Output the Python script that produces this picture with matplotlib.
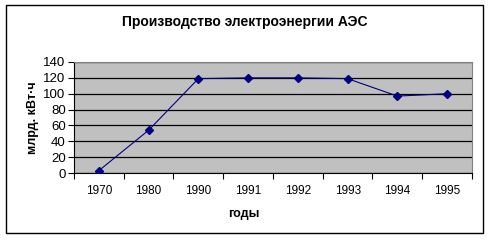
import numpy as np
import matplotlib
matplotlib.use('Agg')
import matplotlib.pyplot as plt
from matplotlib.patches import Rectangle

plt.rcParams['font.family'] = ['Liberation Sans', 'DejaVu Sans']

years = ['1970', '1980', '1990', '1991', '1992', '1993', '1994', '1995']
output = [3, 54, 119, 120, 120, 119, 97, 100]

fig = plt.figure(figsize=(4.89, 2.46), dpi=100)
# Excel-like outer chart border
fig.patches.append(Rectangle((6 / 489, 1 - 233 / 246), 477 / 489, 228 / 246,
                             transform=fig.transFigure, fill=False,
                             edgecolor='black', linewidth=1))

ax = fig.add_axes([74 / 489, 1 - 173 / 246, 398 / 489, 111 / 246])
ax.set_facecolor('#c0c0c0')

x = np.arange(len(years))
ax.plot(x, output, '-', color='#000080', linewidth=0.8,
        marker='D', markersize=4.5, markerfacecolor='#000080',
        markeredgecolor='#000080', zorder=3)

ax.set_xlim(-0.5, len(years) - 0.5)
ax.set_ylim(0, 140)
ax.set_yticks(np.arange(0, 141, 20))
ax.yaxis.grid(True, color='black', linewidth=0.9)
ax.set_axisbelow(True)

# category ticks at boundaries, labels centred
ax.set_xticks(np.arange(-0.5, len(years), 1))
ax.set_xticklabels([])
ax.set_xticks(x, minor=True)
ax.set_xticklabels(years, minor=True)
ax.tick_params(axis='x', which='minor', length=0, pad=9, labelsize=8.5)
ax.tick_params(axis='x', which='major', length=4, width=0.8, direction='out')
ax.tick_params(axis='y', length=4, width=0.8, direction='out', labelsize=9.5, pad=2)

for side in ['top', 'right']:
    ax.spines[side].set_color('#808080')
    ax.spines[side].set_linewidth(0.8)
for side in ['left', 'bottom']:
    ax.spines[side].set_color('black')
    ax.spines[side].set_linewidth(0.8)

fig.text(0.5, 1 - 22 / 246, 'Производство электроэнергии АЭС',
         ha='center', va='center', fontsize=10, fontweight='bold')
fig.text(244 / 489, 1 - 214 / 246, 'годы', ha='center', va='center',
         fontsize=9, fontweight='bold')
fig.text(33 / 489, 1 - 118 / 246, 'млрд. кВт·ч', ha='center', va='center',
         rotation=90, fontsize=9, fontweight='bold')

fig.savefig('out.png', dpi=100)
